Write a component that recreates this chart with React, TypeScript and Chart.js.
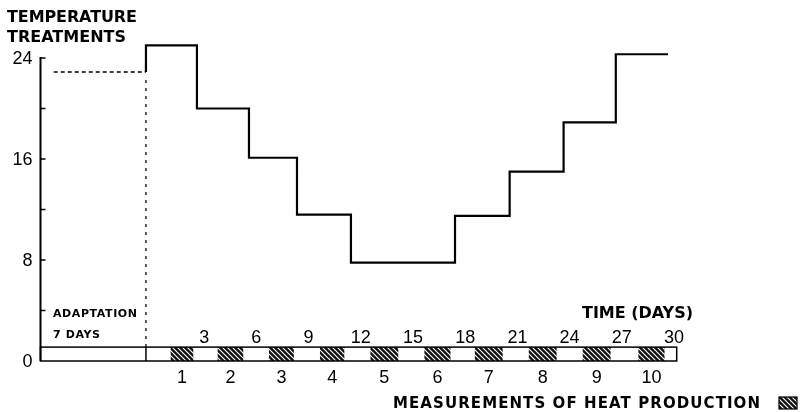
import React, { useEffect, useRef } from 'react';
import { Chart, registerables } from 'chart.js';

Chart.register(...registerables);

// ---- data ----
const adaptationStartDay = -5.3;
const adaptationTemp = 22.9;
const treatmentStartDays = [0, 2.93, 5.92, 8.68, 11.78, 17.76, 20.9, 24.0, 27.0, 30];
const treatmentTemps = [25.0, 20.0, 16.1, 11.6, 7.8, 11.5, 15.0, 18.9, 24.3, 24.3];
const yTickValues = [0, 4, 8, 12, 16, 20, 24];
const yLabelValues = [0, 8, 16, 24];
const timeTickDays = [3, 6, 9, 12, 15, 18, 21, 24, 27, 30];
const measurementStart = [1.42, 4.12, 7.07, 10.0, 12.9, 16.0, 18.9, 22.0, 25.1, 28.3];
const measurementEnd = [2.72, 5.59, 8.5, 11.4, 14.5, 17.5, 20.5, 23.6, 26.7, 29.8];
const measurementLabels = ['1', '2', '3', '4', '5', '6', '7', '8', '9', '10'];

const NUM_FONT = '18px "Liberation Sans", Arial, sans-serif';
const BOLD = (s: number) => `bold ${s}px "DejaVu Sans", "Liberation Sans", sans-serif`;

function fitText(ctx: CanvasRenderingContext2D, text: string, x: number, y: number, width: number) {
  (ctx as any).letterSpacing = '0px';
  const w = ctx.measureText(text).width;
  const s = text.length > 1 ? (width - w) / (text.length - 1) : 0;
  (ctx as any).letterSpacing = `${s}px`;
  ctx.textAlign = 'left';
  ctx.fillText(text, x, y);
  (ctx as any).letterSpacing = '0px';
}

function makeHatch(ctx: CanvasRenderingContext2D) {
  const c = document.createElement('canvas');
  c.width = 5;
  c.height = 5;
  const g = c.getContext('2d')!;
  g.fillStyle = '#111';
  g.fillRect(0, 0, 5, 5);
  g.strokeStyle = '#fff';
  g.lineWidth = 1.1;
  g.beginPath();
  g.moveTo(-1, -1);
  g.lineTo(6, 6);
  g.moveTo(-1, 4);
  g.lineTo(1, 6);
  g.moveTo(4, -1);
  g.lineTo(6, 1);
  g.stroke();
  return ctx.createPattern(c, 'repeat')!;
}

const decorPlugin = {
  id: 'decor',
  afterDraw(chart: any) {
    const ctx: CanvasRenderingContext2D = chart.ctx;
    const xs = chart.scales.x;
    const ys = chart.scales.y;
    const X = (v: number) => xs.getPixelForValue(v);
    const Y = (v: number) => ys.getPixelForValue(v);
    ctx.save();
    ctx.fillStyle = '#000';
    ctx.strokeStyle = '#000';

    // title
    ctx.font = BOLD(16);
    ctx.textBaseline = 'alphabetic';
    fitText(ctx, 'TEMPERATURE', 7, 22, 130);
    fitText(ctx, 'TREATMENTS', 7, 42, 119);

    // y axis line and ticks
    const axisX = xs.left;
    ctx.lineWidth = 2;
    ctx.beginPath();
    ctx.moveTo(axisX, Y(24) - 1);
    ctx.lineTo(axisX, Y(0));
    ctx.stroke();
    ctx.lineWidth = 1.5;
    yTickValues.forEach((v) => {
      if (v === 0) return;
      ctx.beginPath();
      ctx.moveTo(axisX, Y(v));
      ctx.lineTo(axisX + 5, Y(v));
      ctx.stroke();
    });
    ctx.font = NUM_FONT;
    ctx.textAlign = 'right';
    ctx.textBaseline = 'middle';
    yLabelValues.forEach((v) => ctx.fillText(String(v), axisX - 8, Y(v) + 1));

    // band
    const bandTop = Y(1.1);
    const bandBot = Y(0);
    const bandRight = X(30.5);
    const hatch = makeHatch(ctx);
    measurementStart.forEach((s, i) => {
      ctx.fillStyle = hatch;
      ctx.fillRect(X(s), bandTop, X(measurementEnd[i]) - X(s), bandBot - bandTop);
    });
    ctx.fillStyle = '#000';
    ctx.lineWidth = 1.5;
    ctx.strokeRect(axisX, bandTop, bandRight - axisX, bandBot - bandTop);
    ctx.beginPath();
    ctx.moveTo(X(0), bandTop);
    ctx.lineTo(X(0), bandBot);
    ctx.stroke();

    // adaptation divider (dotted)
    ctx.lineWidth = 1.3;
    ctx.setLineDash([3, 5]);
    ctx.beginPath();
    ctx.moveTo(X(0), Y(adaptationTemp) + 8);
    ctx.lineTo(X(0), bandTop);
    ctx.stroke();
    ctx.setLineDash([]);

    // time labels
    ctx.font = NUM_FONT;
    ctx.textAlign = 'center';
    ctx.textBaseline = 'alphabetic';
    timeTickDays.forEach((d) => ctx.fillText(String(d), X(d) + 6, 343));
    measurementLabels.forEach((l, i) => {
      const cx = (X(measurementStart[i]) + X(measurementEnd[i])) / 2;
      ctx.fillText(l, cx, 383);
    });

    ctx.font = BOLD(16);
    fitText(ctx, 'TIME (DAYS)', 582, 318, 111);
    ctx.font = BOLD(11);
    fitText(ctx, 'ADAPTATION', 53, 317, 84);
    fitText(ctx, '7 DAYS', 53, 338, 47);
    ctx.font = BOLD(15);
    fitText(ctx, 'MEASUREMENTS OF HEAT PRODUCTION', 393, 408, 367);

    // legend icon
    ctx.fillStyle = hatch;
    ctx.fillRect(779, 397, 18, 12);
    ctx.lineWidth = 1.2;
    ctx.strokeRect(779, 397, 18, 12);

    ctx.restore();
  },
};

export default function App() {
  const ref = useRef<HTMLCanvasElement>(null);
  useEffect(() => {
    const canvas = ref.current!;
    const stepData = [
      { x: 0, y: adaptationTemp },
      ...treatmentStartDays.map((d, i) => ({ x: d, y: treatmentTemps[i] })),
    ];
    const chart = new Chart(canvas, {
      type: 'line',
      data: {
        datasets: [
          {
            data: stepData,
            stepped: true,
            borderColor: '#000',
            borderWidth: 2.2,
            pointRadius: 0,
            fill: false,
            clip: false as any,
          },
          {
            data: [
              { x: adaptationStartDay, y: adaptationTemp },
              { x: 0, y: adaptationTemp },
            ],
            borderColor: '#000',
            borderWidth: 1.5,
            borderDash: [4, 3],
            pointRadius: 0,
            fill: false,
            clip: false as any,
          },
        ],
      },
      options: {
        responsive: false,
        animation: false,
        events: [],
        layout: { padding: { left: 40.5, top: 45.4, right: 138, bottom: 51 } },
        plugins: { legend: { display: false }, tooltip: { enabled: false }, title: { display: false } },
        scales: {
          x: { type: 'linear', min: -6.06, max: 30, display: false },
          y: { type: 'linear', min: 0, max: 25, display: false },
        },
      },
      plugins: [decorPlugin],
    });
    return () => chart.destroy();
  }, []);
  return (
    <div style={{ position: 'fixed', left: 0, top: 0, width: 806, height: 412, background: '#fff' }}>
      <canvas ref={ref} width={806} height={412} style={{ display: 'block' }} />
    </div>
  );
}
